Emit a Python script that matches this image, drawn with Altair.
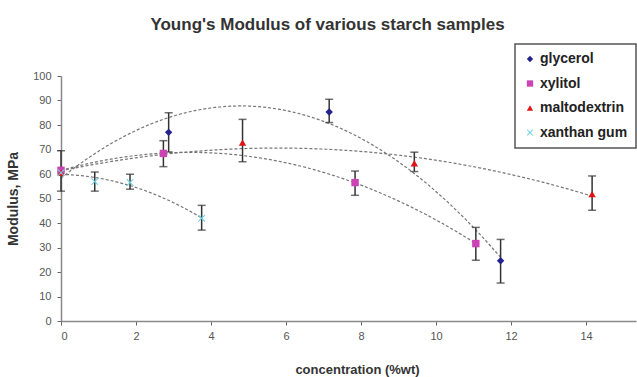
import altair as alt
import pandas as pd

# ---- data ----
series_names = ["glycerol", "xylitol", "maltodextrin", "xanthan gum"]

glycerol_x = [0, 2.87, 7.15, 11.72]
glycerol_y = [61, 77, 85.3, 24.6]
glycerol_lo = [53, 69, 81, 15.5]
glycerol_hi = [69.5, 85, 90.5, 33.3]

xylitol_x = [0, 2.73, 7.84, 11.06]
xylitol_y = [61.5, 68.4, 56.5, 31.6]
xylitol_lo = [None, 63, 51.3, 24.8]
xylitol_hi = [None, 73.6, 61.2, 38.2]

malto_x = [0, 4.84, 9.42, 14.16]
malto_y = [60.5, 72.8, 64.4, 51.8]
malto_lo = [None, 65, 61, 45.2]
malto_hi = [None, 82.3, 68.9, 59.2]

xanthan_x = [0, 0.9, 1.84, 3.75]
xanthan_y = [60.5, 56.9, 56.5, 41.9]
xanthan_lo = [None, 53, 53.8, 37.1]
xanthan_hi = [None, 60.8, 59.9, 47.2]

x_ticks = [0, 2, 4, 6, 8, 10, 12, 14]
y_ticks = [0, 10, 20, 30, 40, 50, 60, 70, 80, 90, 100]

colors = ["#23238f", "#cc44b4", "#e01414", "#6fd3e3"]
x_path = "M-1,-0.8L-0.8,-1L0,-0.2L0.8,-1L1,-0.8L0.2,0L1,0.8L0.8,1L0,0.2L-0.8,1L-1,0.8L-0.2,0Z"
shapes = ["diamond", "square", "triangle-up", x_path]

rows = []
for name, xs, ys, los, his in [
    ("glycerol", glycerol_x, glycerol_y, glycerol_lo, glycerol_hi),
    ("xylitol", xylitol_x, xylitol_y, xylitol_lo, xylitol_hi),
    ("maltodextrin", malto_x, malto_y, malto_lo, malto_hi),
    ("xanthan gum", xanthan_x, xanthan_y, xanthan_lo, xanthan_hi),
]:
    for x, y, lo, hi in zip(xs, ys, los, his):
        rows.append({"series": name, "x": x, "y": y, "lo": lo, "hi": hi,
                     "order": series_names.index(name)})
df = pd.DataFrame(rows)
err = df.dropna(subset=["lo", "hi"])

xscale = alt.Scale(domain=[0, 15.33], nice=False, zero=False)
yscale = alt.Scale(domain=[0, 100], nice=False)

xaxis = alt.Axis(values=x_ticks, title="concentration (%wt)", grid=False,
                 labelFontSize=11, labelColor="#555", labelFont="Liberation Sans",
                 titleFont="Liberation Sans", titleFontSize=13, titleFontWeight="bold",
                 titleColor="#333", titlePadding=22, titleX=296,
                 domainColor="#8a8a8a", domainWidth=1.5, tickColor="#666",
                 tickSize=4, labelPadding=5, labelOverlap=False)
yaxis = alt.Axis(values=y_ticks, title="Modulus, MPa", grid=False,
                 labelFontSize=11, labelColor="#555", labelFont="Liberation Sans",
                 titleFont="Liberation Sans", titleFontSize=14, titleFontWeight="bold",
                 titleColor="#333", titlePadding=12,
                 domainColor="#8a8a8a", domainWidth=1.5, tickColor="#666",
                 tickSize=4, labelPadding=6, labelOverlap=False)

X = alt.X("x:Q", scale=xscale, axis=xaxis)

trend = alt.Chart(df).transform_regression(
    "x", "y", method="poly", order=2, groupby=["series"]
).mark_line(color="#777", strokeWidth=1.2, strokeDash=[3, 2]).encode(
    x=X,
    y=alt.Y("y:Q", scale=yscale, axis=yaxis),
    detail="series:N",
)

bars = alt.Chart(err).mark_rule(color="#333", strokeWidth=1.5).encode(
    x=X,
    y=alt.Y("lo:Q", scale=yscale, axis=yaxis),
    y2="hi:Q",
)
cap_lo = alt.Chart(err).mark_tick(color="#333", orient="horizontal", size=8, thickness=1.5).encode(
    x=X, y=alt.Y("lo:Q", scale=yscale, axis=yaxis))
cap_hi = alt.Chart(err).mark_tick(color="#333", orient="horizontal", size=8, thickness=1.5).encode(
    x=X, y=alt.Y("hi:Q", scale=yscale, axis=yaxis))

points = alt.Chart(df).mark_point(filled=True, opacity=1, size=55).encode(
    x=X,
    y=alt.Y("y:Q", scale=yscale, axis=yaxis),
    color=alt.Color("series:N", scale=alt.Scale(domain=series_names, range=colors),
                    legend=alt.Legend(title=None)),
    shape=alt.Shape("series:N", scale=alt.Scale(domain=series_names, range=shapes),
                    legend=alt.Legend(title=None)),
    order="order:Q",
)

chart = alt.layer(trend, bars, cap_lo, cap_hi, points).properties(
    width=575, height=245,
    autosize=alt.AutoSizeParams(type="none"),
    padding={"left": 61, "top": 76, "right": 1, "bottom": 56},
    title=alt.Title("Young's Modulus of various starch samples", font="Liberation Sans",
                    fontSize=17, fontWeight="bold", color="#333", anchor="middle",
                    dx=-21, offset=9),
).configure_view(stroke=None).configure_legend(
    orient="none", legendX=454, legendY=-32, padding=8,
    strokeColor="#555", strokeWidth=1.5, fillColor="white",
    labelFont="Liberation Sans", labelFontSize=14, labelFontWeight="bold",
    labelColor="#222", symbolSize=40, rowPadding=10.5, symbolOffset=0,
    labelOffset=3,
)

chart.save("out.html", embed_options={"renderer": "svg", "actions": False})
